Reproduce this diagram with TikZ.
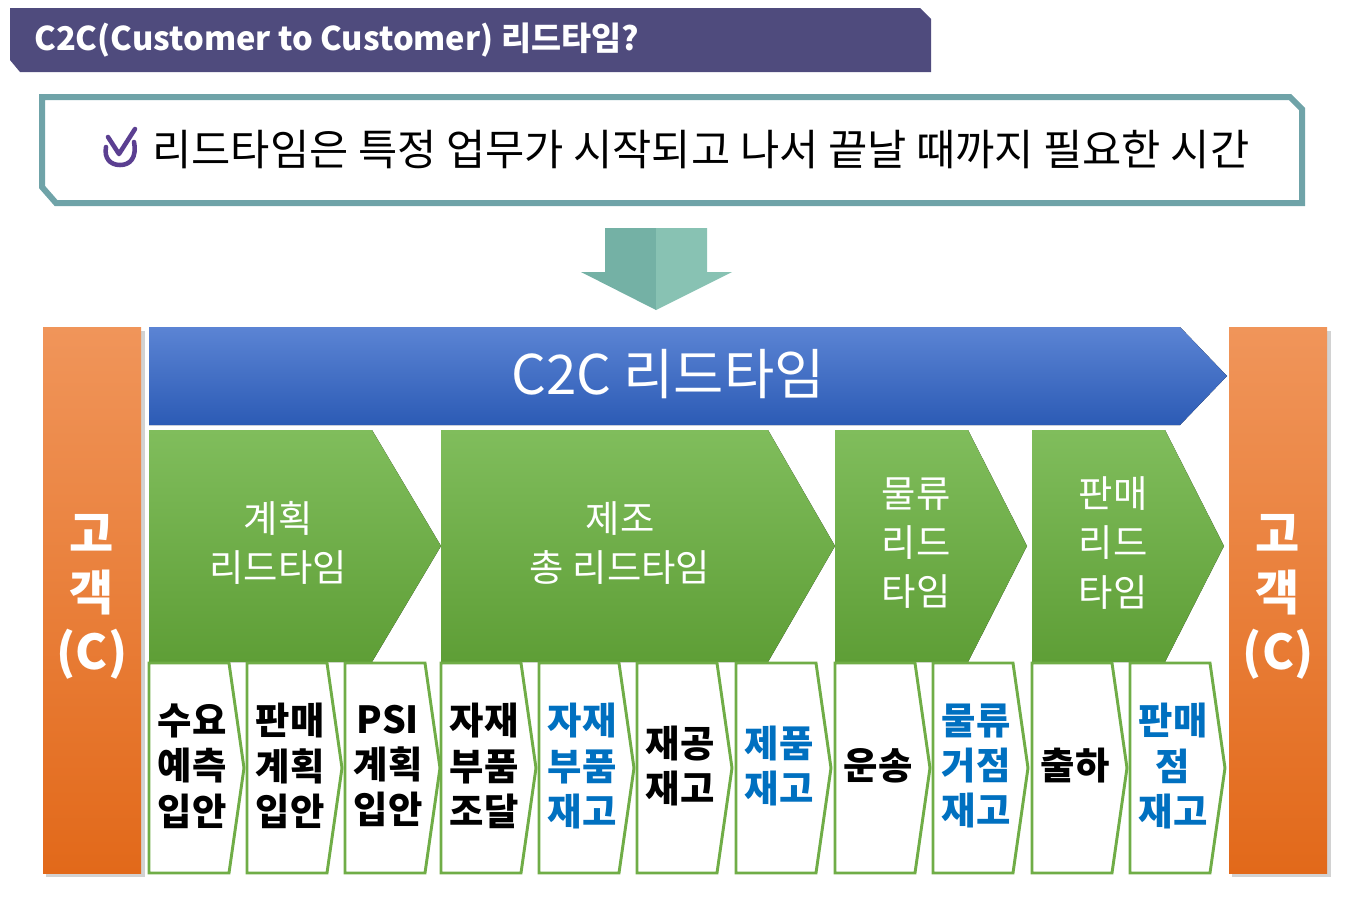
\documentclass[tikz,border=0pt]{standalone}
\usepackage{fontspec}
\setmainfont{Noto Sans CJK KR}
\usetikzlibrary{calc}
\definecolor{ttl}{HTML}{4F4B7D}
\definecolor{teal}{HTML}{6FA3A8}
\definecolor{arrL}{HTML}{74B1A5}
\definecolor{arrR}{HTML}{88C2B3}
\definecolor{orT}{HTML}{F0955A}
\definecolor{orB}{HTML}{E2691A}
\definecolor{blT}{HTML}{5B84D4}
\definecolor{blB}{HTML}{2C5BB5}
\definecolor{grT}{HTML}{80BD5C}
\definecolor{grB}{HTML}{5E9E36}
\definecolor{gline}{HTML}{70AD47}
\definecolor{kblue}{HTML}{0070C0}
\definecolor{chk}{HTML}{5B3F91}
\tikzset{
  orbar/.style={top color=orT,bottom color=orB,draw=none},
  grch/.style={top color=grT,bottom color=grB,draw=none},
  sbox/.style={fill=white,draw=gline,line width=2.2pt,line join=miter},
  stxt/.style={font=\bfseries\fontsize{28}{34}\selectfont,align=center,inner sep=0pt},
  gtxt/.style={font=\fontsize{28}{37}\selectfont,align=center,text=white,inner sep=0pt},
  otxt/.style={font=\bfseries\fontsize{36}{44}\selectfont,align=center,text=white,inner sep=0pt}
}
\begin{document}
\begin{tikzpicture}[x=0.75pt,y=-0.75pt]
\useasboundingbox (0,0) rectangle (1371,901);
% title
\fill[ttl] (10,8) -- (920,8) -- (931,19) -- (931,72) -- (20,72) -- (10,60) -- cycle;
\node[anchor=west,text=white,font=\bfseries\fontsize{24.5}{28}\selectfont,inner sep=0pt] (title) at (34,40) {C2C(Customer to Customer) 리드타임?};
% definition box
\draw[teal,line width=4.5pt,fill=white] (42,97) -- (1290,97) -- (1302,109) -- (1302,203) -- (56,203) -- (42,187) -- cycle;
\node[anchor=west,font=\fontsize{32}{36}\selectfont,inner sep=0pt] (def) at (152,150) {리드타임은 특정 업무가 시작되고 나서 끝날 때까지 필요한 시간};
\draw[chk,line width=3.4pt,line cap=round,line join=round] (134,142) .. controls (137,158) and (130,165) .. (120,165) .. controls (110,165) and (104,158) .. (106,147);
\draw[chk,line width=3.4pt,line cap=round,line join=round] (108,137) -- (119,154) -- (135,129);
% down arrow
\fill[arrL] (605,228) -- (656,228) -- (656,310) -- (581,272) -- (605,272) -- cycle;
\fill[arrR] (656,228) -- (707,228) -- (707,272) -- (732,272) -- (656,310) -- cycle;
% orange bars
\fill[gray!35] (46,331) rectangle (145,877);
\fill[gray!35] (1232,331) rectangle (1331,877);
\fill[orbar] (43,327) rectangle (141,873);
\fill[orbar] (1229,327) rectangle (1327,873);
\node[otxt] (cl) at (92,597) {고\\객\\(C)};
\node[otxt] (cr) at (1278,597) {고\\객\\(C)};
% blue arrow
\fill[top color=blT,bottom color=blB] (149,327) -- (1180,327) -- (1227,376) -- (1180,425) -- (149,425) -- cycle;
\node[text=white,font=\fontsize{41}{46}\selectfont,inner sep=0pt] (c2c) at (668,374) {C2C 리드타임};
% green chevrons
\fill[grch] (149,430) -- (372,430) -- (441,546) -- (372,662) -- (149,662) -- cycle;
\fill[grch] (441,430) -- (768,430) -- (835,546) -- (768,662) -- (441,662) -- cycle;
\fill[grch] (835,430) -- (968,430) -- (1027,546) -- (968,662) -- (835,662) -- cycle;
\fill[grch] (1032,430) -- (1165,430) -- (1224,546) -- (1165,662) -- (1032,662) -- cycle;
\node[gtxt] (g1) at (278,543) {계획\\리드타임};
\node[gtxt] (g2) at (620,543) {제조\\총 리드타임};
\node[gtxt] (g3) at (916,543) {물류\\리드\\타임};
\node[gtxt] (g4) at (1113,543) {판매\\리드\\타임};
% small boxes
\foreach \x/\t/\c [count=\i] in {
 149/{수요\\예측\\입안}/black,
 247/{판매\\계획\\입안}/black,
 345/{PSI\\계획\\입안}/black,
 441/{자재\\부품\\조달}/black,
 539/{자재\\부품\\재고}/kblue,
 637/{재공\\재고}/black,
 736/{제품\\재고}/kblue,
 835/{운송}/black,
 933/{물류\\거점\\재고}/kblue,
 1032/{출하}/black,
 1130/{판매\\점\\재고}/kblue}{
 \draw[sbox] (\x,663) -- (\x+80,663) -- (\x+95,768) -- (\x+80,873) -- (\x,873) -- cycle;
 \node[stxt,text=\c] (s\i) at (\x+43,766) {\t};
}
\end{tikzpicture}
\end{document}
